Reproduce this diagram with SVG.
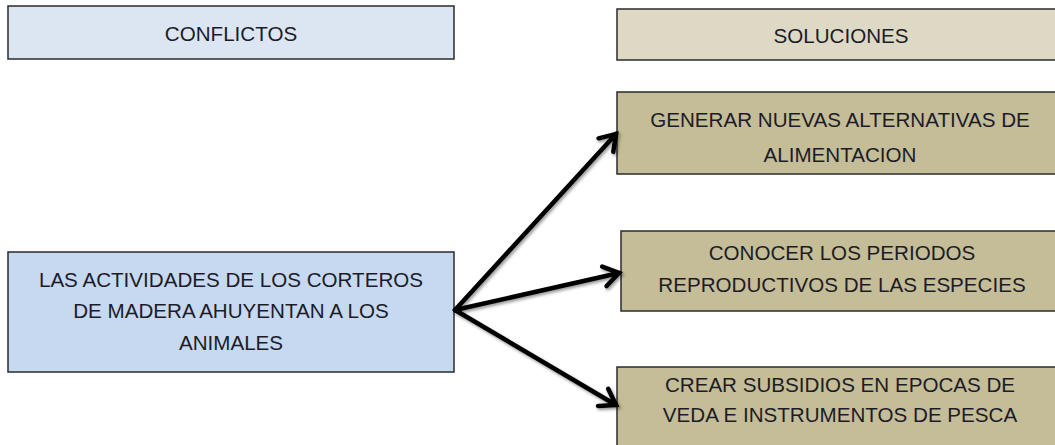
<svg xmlns="http://www.w3.org/2000/svg" width="1055" height="445" viewBox="0 0 1055 445">
<style>
.box{stroke:#2b2b2b;stroke-width:1.5}
.t{font-family:"Liberation Sans",Arial,sans-serif;font-size:20.6px;fill:#1c1c28;text-anchor:middle}
.ar{fill:none;stroke:#000;stroke-width:4.5;stroke-linecap:round}
</style>
<defs>
<marker id="arr" markerUnits="userSpaceOnUse" markerWidth="26" markerHeight="26" refX="21" refY="13" orient="auto" viewBox="0 0 26 26">
<path d="M6,3 L21,13 L6,23" fill="none" stroke="#000" stroke-width="4.5" stroke-linecap="round" stroke-linejoin="miter"/>
</marker>
<filter id="sh" x="-10%" y="-10%" width="120%" height="120%">
<feDropShadow dx="1.5" dy="2" stdDeviation="1.5" flood-color="#000" flood-opacity="0.4"/>
</filter>
</defs>
<rect width="1055" height="445" fill="#fff"/>
<g id="conflictos">
<rect class="box" x="8" y="6" width="446" height="53" fill="#dce6f2"/>
<text class="t" x="231" y="41">CONFLICTOS</text>
</g>
<g id="soluciones">
<rect class="box" x="617" y="9" width="450" height="51" fill="#ddd9c4"/>
<text class="t" x="841" y="43">SOLUCIONES</text>
</g>
<g id="conflicto1">
<rect class="box" x="8" y="252" width="446" height="120" fill="#c6d9f1"/>
<text class="t" x="231" y="287">LAS ACTIVIDADES DE LOS CORTEROS</text>
<text class="t" x="231" y="318">DE MADERA AHUYENTAN A LOS</text>
<text class="t" x="231" y="350">ANIMALES</text>
</g>
<g id="solucion1">
<rect class="box" x="617" y="92" width="450" height="82" fill="#c4bd97"/>
<text class="t" x="840" y="127">GENERAR NUEVAS ALTERNATIVAS DE</text>
<text class="t" x="840" y="162">ALIMENTACION</text>
</g>
<g id="solucion2">
<rect class="box" x="621" y="231" width="446" height="80" fill="#c4bd97"/>
<text class="t" x="842" y="260">CONOCER LOS PERIODOS</text>
<text class="t" x="842" y="292">REPRODUCTIVOS DE LAS ESPECIES</text>
</g>
<g id="solucion3">
<rect class="box" x="617" y="367" width="450" height="90" fill="#c4bd97"/>
<text class="t" x="840" y="392">CREAR SUBSIDIOS EN EPOCAS DE</text>
<text class="t" x="840" y="422">VEDA E INSTRUMENTOS DE PESCA</text>
</g>
<g id="connectors" filter="url(#sh)">
<line class="ar" x1="455" y1="310" x2="616" y2="134" marker-end="url(#arr)"/>
<line class="ar" x1="455" y1="310" x2="619" y2="273" marker-end="url(#arr)"/>
<line class="ar" x1="455" y1="310" x2="616" y2="405" marker-end="url(#arr)"/>
</g>
</svg>
